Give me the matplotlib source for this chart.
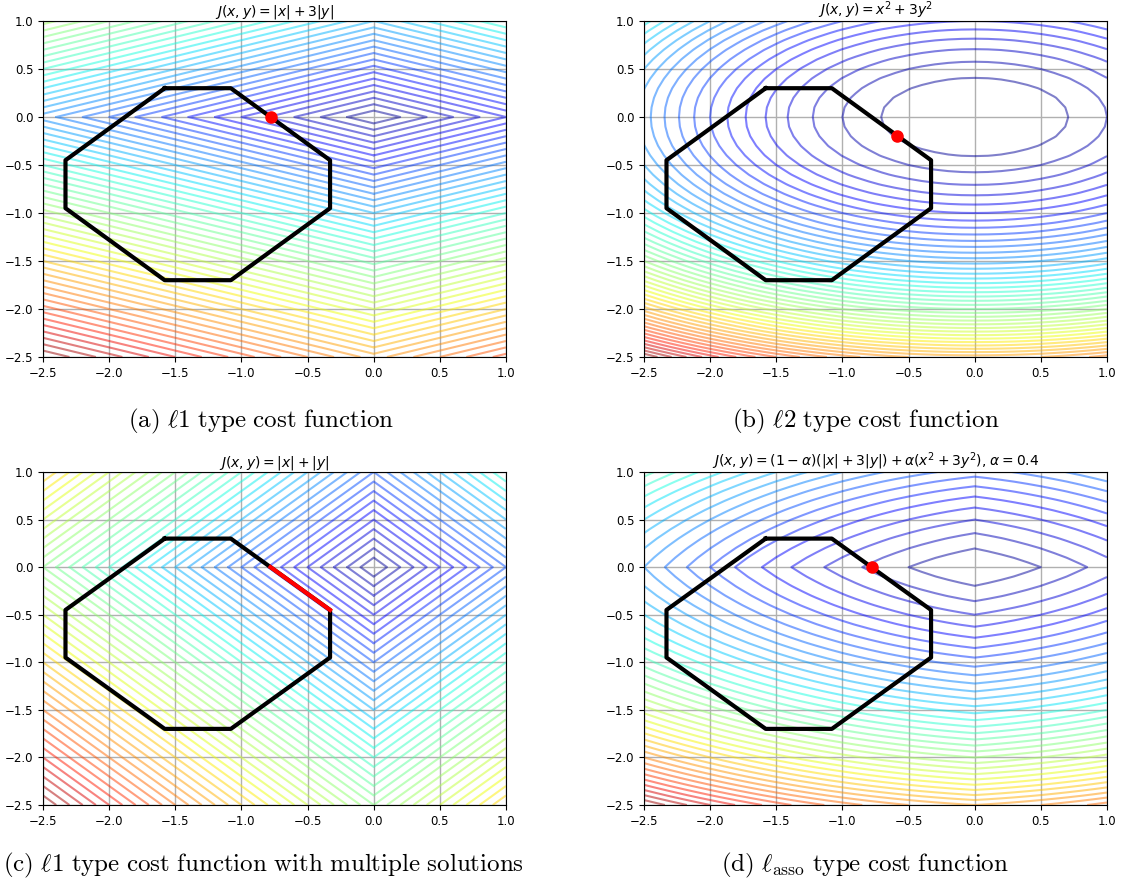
"""Contour plots of l1 / l2 / mixed cost functions over an octagonal feasible set."""
import numpy as np
import matplotlib
matplotlib.use("Agg")
import matplotlib.pyplot as plt

# feasible set (octagon), closed
octagon_x = [-1.58, -1.08, -0.33, -0.33, -1.08, -1.58, -2.33, -2.33, -1.58]
octagon_y = [0.30, 0.30, -0.45, -0.95, -1.70, -1.70, -0.95, -0.45, 0.30]

# optimal solutions
sol_a = (-0.78, 0.0)
sol_b = (-0.59, -0.20)
seg_c_x = [-0.78, -0.33]
seg_c_y = [0.0, -0.45]
sol_d = (-0.78, 0.0)

alpha_mix = 0.4
level_steps = [0.2, 0.5, 0.1, 0.4]

titles = [r"$J(x, y) = |x| + 3|y|$",
          r"$J(x, y) = x^2 + 3y^2$",
          r"$J(x, y) = |x| + |y|$",
          r"$J(x, y) = (1 - \alpha)(|x| + 3|y|) + \alpha(x^2 + 3y^2)$, $\alpha = 0.4$"]
captions = [r"$\mathrm{(a)\ \ell 1\ type\ cost\ function}$",
            r"$\mathrm{(b)\ \ell 2\ type\ cost\ function}$",
            r"$\mathrm{(c)\ \ell 1\ type\ cost\ function\ with\ multiple\ solutions}$",
            r"$\mathrm{(d)\ \ell_{asso}\ type\ cost\ function}$"]
ticks = [-2.5, -2.0, -1.5, -1.0, -0.5, 0.0, 0.5, 1.0]

xs = np.linspace(-2.5, 1.0, 36)
ys = np.linspace(-2.5, 1.0, 36)
X, Y = np.meshgrid(xs, ys)
Zs = [np.abs(X) + 3*np.abs(Y),
      X**2 + 3*Y**2,
      np.abs(X) + np.abs(Y),
      (1 - alpha_mix)*(np.abs(X) + 3*np.abs(Y)) + alpha_mix*(X**2 + 3*Y**2)]

fig = plt.figure(figsize=(11.23, 8.85), dpi=100)
W, H = 1123, 885
boxes = [(43, 21, 506, 357), (644, 21, 1107, 357),
         (43, 472, 506, 805), (644, 472, 1107, 805)]
cap_pos = [(261, 421), (866, 421), (263, 865), (865, 865)]

for i in range(4):
    x0, y0, x1, y1 = boxes[i]
    ax = fig.add_axes([x0/W, 1 - y1/H, (x1 - x0)/W, (y1 - y0)/H])
    Z = Zs[i]
    lev = np.arange(0, Z.max() + 1e-9, level_steps[i])
    ax.contour(X, Y, Z, levels=lev, cmap="jet", alpha=0.5, linewidths=1.5)
    ax.grid(True, color="#b0b0b0", lw=1)
    ax.plot(octagon_x, octagon_y, color="k", lw=3)
    if i == 0:
        ax.plot(*sol_a, "o", color="red", ms=8)
    elif i == 1:
        ax.plot(*sol_b, "o", color="red", ms=8)
    elif i == 2:
        ax.plot(seg_c_x, seg_c_y, color="red", lw=3)
    else:
        ax.plot(*sol_d, "o", color="red", ms=8)
    ax.set_xlim(-2.5, 1.0); ax.set_ylim(-2.5, 1.0)
    ax.set_xticks(ticks); ax.set_yticks(ticks)
    ax.tick_params(labelsize=8.5)
    ax.set_title(titles[i], fontsize=10, pad=3)
    cx, cy = cap_pos[i]
    fig.text(cx/W, 1 - cy/H, captions[i], ha="center", va="center",
             fontsize=18, math_fontfamily="cm")

fig.savefig("out.png", dpi=100)
